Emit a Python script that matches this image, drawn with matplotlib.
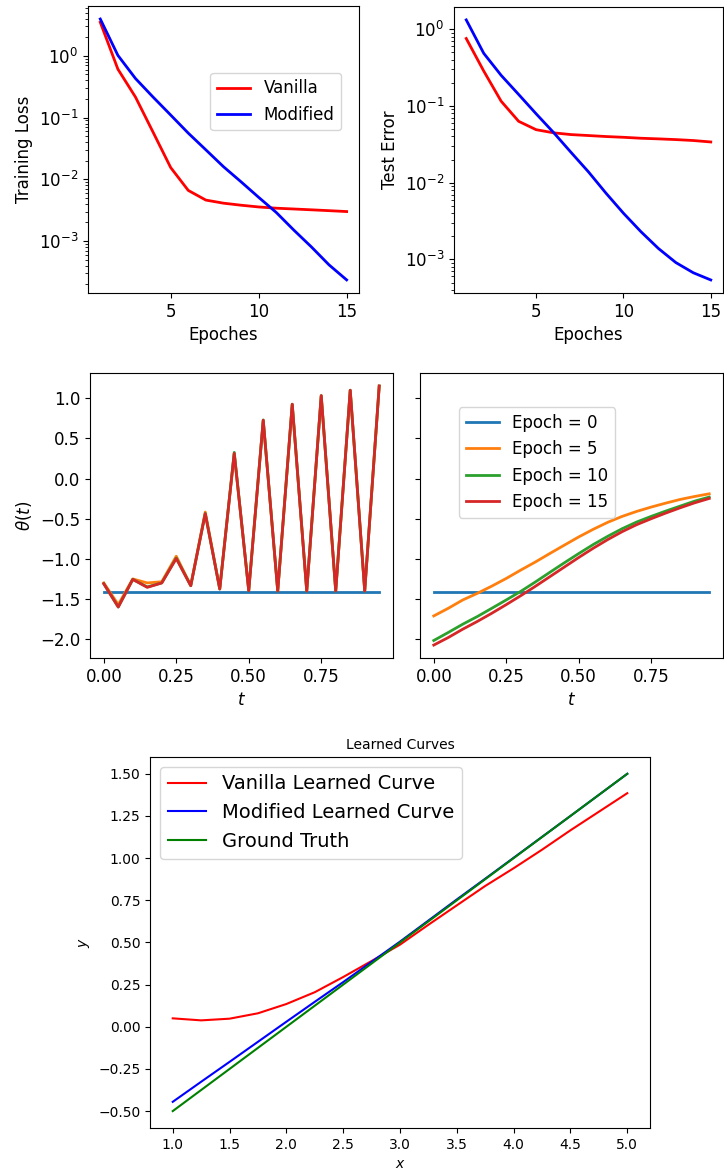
import matplotlib
matplotlib.use("Agg")
import matplotlib.pyplot as plt

# top row: loss / error per epoch
epochs = list(range(1, 16))
train_vanilla = [3.5, 0.61, 0.215, 0.058, 0.0155, 0.0066, 0.0046, 0.0041,
                 0.0038, 0.00356, 0.0034, 0.0033, 0.0032, 0.0031, 0.0030]
train_modified = [3.96, 1.02, 0.43, 0.215, 0.11, 0.056, 0.03, 0.016,
                  0.0091, 0.0051, 0.0029, 0.0015, 0.0008, 0.00041, 0.000234]
test_vanilla = [0.755, 0.285, 0.115, 0.063, 0.049, 0.0446, 0.0423, 0.0411,
                0.0399, 0.039, 0.0379, 0.0372, 0.0364, 0.0354, 0.0339]
test_modified = [1.32, 0.485, 0.25, 0.141, 0.079, 0.045, 0.0248, 0.0138,
                 0.0073, 0.0040, 0.0023, 0.00139, 0.00091, 0.00067, 0.00054]

# middle row: theta(t) at a few epochs
t = [0.00, 0.05, 0.10, 0.15, 0.20, 0.25, 0.30, 0.35, 0.40, 0.45,
     0.50, 0.55, 0.60, 0.65, 0.70, 0.75, 0.80, 0.85, 0.90, 0.95]
t_ticks = [0.00, 0.25, 0.50, 0.75]
epoch_labels = ["Epoch = 0", "Epoch = 5", "Epoch = 10", "Epoch = 15"]
theta0 = [-1.41] * 20
van_theta5 = [-1.30, -1.57, -1.25, -1.30, -1.285, -0.967, -1.33, -0.417, -1.37, 0.31,
              -1.39, 0.72, -1.40, 0.92, -1.40, 1.03, -1.40, 1.10, -1.40, 1.15]
van_theta10 = [-1.31, -1.60, -1.256, -1.35, -1.30, -0.99, -1.335, -0.435, -1.376, 0.326,
               -1.397, 0.73, -1.40, 0.926, -1.40, 1.033, -1.40, 1.10, -1.40, 1.153]
van_theta15 = [-1.31, -1.60, -1.256, -1.355, -1.30, -0.996, -1.335, -0.438, -1.376, 0.314,
               -1.397, 0.727, -1.40, 0.926, -1.40, 1.033, -1.40, 1.10, -1.40, 1.153]
mod_theta5 = [-1.711, -1.616, -1.512, -1.43, -1.34, -1.244, -1.14, -1.04, -0.934, -0.83,
              -0.727, -0.632, -0.545, -0.471, -0.409, -0.355, -0.306, -0.26, -0.223, -0.19]
mod_theta10 = [-2.017, -1.917, -1.814, -1.719, -1.616, -1.512, -1.405, -1.289, -1.169, -1.05,
               -0.934, -0.822, -0.719, -0.624, -0.541, -0.471, -0.405, -0.343, -0.281, -0.231]
mod_theta15 = [-2.074, -1.98, -1.876, -1.78, -1.678, -1.57, -1.459, -1.343, -1.223, -1.103,
               -0.983, -0.868, -0.76, -0.661, -0.574, -0.5, -0.43, -0.364, -0.302, -0.248]

# bottom: learned curves
xs = [1.0, 1.25, 1.5, 1.75, 2.0, 2.25, 2.5, 2.75, 3.0,
      3.25, 3.5, 3.75, 4.0, 4.25, 4.5, 4.75, 5.0]
vanilla_curve = [0.05, 0.038, 0.048, 0.08, 0.135, 0.205, 0.295, 0.39, 0.487,
                 0.605, 0.72, 0.835, 0.94, 1.05, 1.165, 1.275, 1.385]
modified_curve = [-0.445, -0.326, -0.208, -0.089, 0.03, 0.148, 0.265, 0.385, 0.505,
                  0.63, 0.755, 0.878, 1.002, 1.126, 1.25, 1.375, 1.5]
ground_truth = [-0.5, -0.375, -0.25, -0.125, 0.0, 0.125, 0.25, 0.375, 0.5,
                0.625, 0.75, 0.875, 1.0, 1.125, 1.25, 1.375, 1.5]

fig = plt.figure(figsize=(7.24, 11.69), dpi=100)

big = 12
ax1 = fig.add_axes([0.1215, 0.7494, 0.3743, 0.2455])
ax1.plot(epochs, train_vanilla, color="red", lw=2, label="Vanilla")
ax1.plot(epochs, train_modified, color="blue", lw=2, label="Modified")
ax1.set_yscale("log")
ax1.set_xlabel("Epoches", fontsize=big)
ax1.set_ylabel("Training Loss", fontsize=big)
ax1.tick_params(labelsize=big)
ax1.legend(fontsize=big, loc="upper right", bbox_to_anchor=(0.934, 0.767), borderaxespad=0)

ax2 = fig.add_axes([0.6271, 0.7494, 0.3715, 0.2447])
ax2.plot(epochs, test_vanilla, color="red", lw=2)
ax2.plot(epochs, test_modified, color="blue", lw=2)
ax2.set_yscale("log")
ax2.set_xlabel("Epoches", fontsize=big)
ax2.set_ylabel("Test Error", fontsize=big)
ax2.tick_params(labelsize=big)

ax3 = fig.add_axes([0.1243, 0.4371, 0.4185, 0.2438])
ax4 = fig.add_axes([0.5801, 0.4371, 0.4185, 0.2438], sharey=ax3)
for ys in [theta0, van_theta5, van_theta10, van_theta15]:
    ax3.plot(t, ys, lw=2)
for ys, lab in zip([theta0, mod_theta5, mod_theta10, mod_theta15], epoch_labels):
    ax4.plot(t, ys, lw=2, label=lab)
for ax in (ax3, ax4):
    ax.set_xticks(t_ticks)
    ax.set_xlabel(r"$t$", fontsize=big)
ax3.set_ylabel(r"$\theta(t)$", fontsize=big)
ax3.tick_params(labelsize=big)
ax4.tick_params(labelsize=big, labelleft=False)
ax4.legend(fontsize=big, loc="upper left", bbox_to_anchor=(0.129, 0.88), borderaxespad=0)

ax5 = fig.add_axes([0.2072, 0.0351, 0.6906, 0.3174])
ax5.plot(xs, vanilla_curve, color="red", lw=1.5, label="Vanilla Learned Curve")
ax5.plot(xs, modified_curve, color="blue", lw=1.5, label="Modified Learned Curve")
ax5.plot(xs, ground_truth, color="green", lw=1.5, label="Ground Truth")
ax5.set_title("Learned Curves", fontsize=10)
ax5.set_xlabel(r"$x$", fontsize=10)
ax5.set_ylabel(r"$y$", fontsize=10)
ax5.tick_params(labelsize=10)
ax5.legend(fontsize=14, loc="upper left")

fig.savefig("out.png", dpi=100)
